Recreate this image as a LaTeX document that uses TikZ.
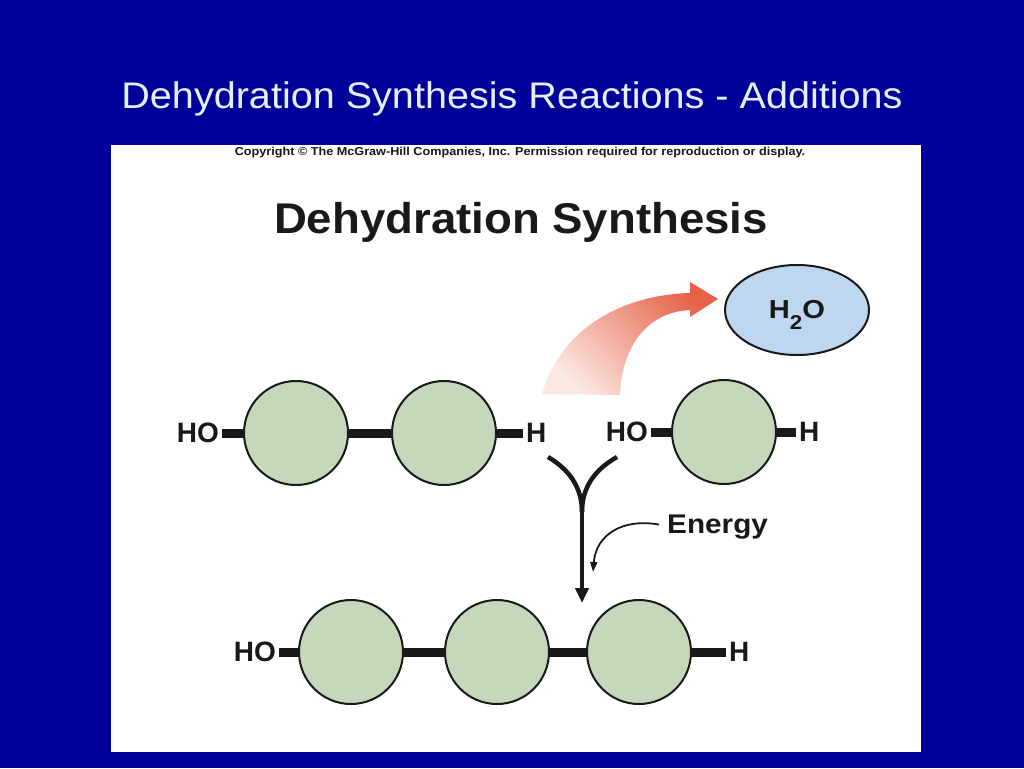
\documentclass[tikz,border=0pt]{standalone}
\usepackage{fontspec}
\setmainfont{Liberation Sans}
\usetikzlibrary{arrows.meta,shapes.geometric}
\definecolor{slideblue}{RGB}{0,0,153}
\definecolor{titlefg}{RGB}{228,240,255}
\definecolor{ink}{RGB}{25,25,25}
\definecolor{monomerfill}{RGB}{197,216,188}
\definecolor{waterfill}{RGB}{190,215,240}
\definecolor{arrowhot}{RGB}{230,98,72}
\definecolor{arrowcool}{RGB}{252,232,226}
\begin{document}
\begin{tikzpicture}[x=1pt,y=-1pt,
  monomer/.style={circle, draw=ink, line width=2pt, fill=monomerfill, minimum size=104pt, inner sep=0pt},
  grouplabel/.style={font=\fontsize{28}{28}\selectfont\bfseries, text=ink, inner sep=3pt},
  bond/.style={line width=9pt, draw=ink},
  reaction/.style={line width=4pt, draw=ink, -{Triangle[length=15pt,width=13pt]}},
  energyarrow/.style={line width=1.8pt, draw=ink, -{Triangle[length=10pt,width=7pt]}}
]
\useasboundingbox (0,0) rectangle (1024,768);
\fill[slideblue] (0,0) rectangle (1024,768);
\node[anchor=base, text=titlefg, font=\fontsize{37}{37}\selectfont, inner sep=0pt, xscale=1.07] (title) at (512,108) {Dehydration Synthesis Reactions - Additions};
\fill[white] (111,145) rectangle (921,752);
\node[anchor=base, text=ink, font=\fontsize{11.5}{11.5}\selectfont\bfseries, inner sep=0pt, xscale=1.1] (copy) at (520,155) {Copyright © The McGraw-Hill Companies, Inc. Permission required for reproduction or display.};
\node[anchor=base, text=ink, font=\fontsize{43}{43}\selectfont\bfseries, inner sep=0pt, xscale=1.06] (head) at (521,233) {Dehydration Synthesis};

% orange arrow
\path[top color=arrowhot, bottom color=arrowcool, shading angle=-45]
  (542,394) .. controls (560,330) and (620,295) .. (690,293)
  -- (690,282) -- (718,299) -- (690,317) -- (690,310)
  .. controls (648,312) and (622,345) .. (620,395) -- cycle;

\node[ellipse, draw=ink, line width=2pt, fill=waterfill, minimum width=144pt, minimum height=90pt, inner sep=0pt, text=ink] (water) at (797,310) {};
\node[font=\fontsize{26}{26}\selectfont\bfseries, text=ink, inner sep=0pt, xscale=1.12] (watertext) at (water.center) {H\raisebox{-11pt}[0pt][0pt]{\fontsize{20}{20}\selectfont 2}O};

% top-left molecule
\node[monomer] (a1) at (296,433) {};
\node[monomer] (a2) at (444,433) {};
\node[grouplabel, anchor=east] (aho) at (222,433) {HO};
\node[grouplabel, anchor=west] (ah) at (523,433) {H};
\draw[bond] (aho.east) -- (a1);
\draw[bond] (a1) -- (a2);
\draw[bond] (a2) -- (ah.west);

% top-right monomer
\node[monomer] (b1) at (724,432) {};
\node[grouplabel, anchor=east] (bho) at (651,432) {HO};
\node[grouplabel, anchor=west] (bh) at (796,432) {H};
\draw[bond] (bho.east) -- (b1);
\draw[bond] (b1) -- (bh.west);

% product
\node[monomer] (p1) at (351,652) {};
\node[monomer] (p2) at (497,652) {};
\node[monomer] (p3) at (639,652) {};
\node[grouplabel, anchor=east] (pho) at (279,652) {HO};
\node[grouplabel, anchor=west] (ph) at (726,652) {H};
\draw[bond] (pho.east) -- (p1);
\draw[bond] (p1) -- (p2);
\draw[bond] (p2) -- (p3);
\draw[bond] (p3) -- (ph.west);

% reaction arrow
\coordinate (yl) at (548,457);
\coordinate (yr) at (617,457);
\coordinate (ym) at (582,512);
\coordinate (yend) at (582,603);
\draw[line width=4.5pt, draw=ink] (yl) .. controls (570,470) and (582,488) .. (ym);
\draw[line width=4.5pt, draw=ink] (yr) .. controls (594,470) and (582,488) .. (ym);
\draw[reaction] (ym) -- (yend);

% energy
\node[anchor=base west, text=ink, font=\fontsize{27}{27}\selectfont\bfseries, inner sep=0pt, xscale=1.1] (energy) at (667,533) {Energy};
\coordinate (etip) at (593,572);
\draw[energyarrow] (energy.west) ++(-8,-2) .. controls (622,518) and (596,535) .. (etip);
\end{tikzpicture}
\end{document}
